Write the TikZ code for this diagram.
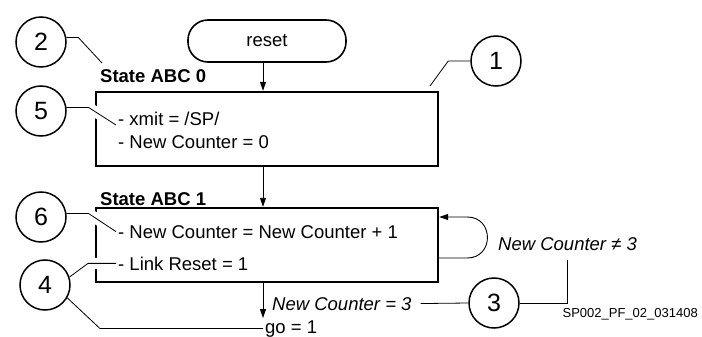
\documentclass[tikz,border=0pt]{standalone}
\usepackage{fontspec}
\setmainfont{Liberation Sans}
\usetikzlibrary{arrows.meta,positioning,calc}
\tikzset{
  every node/.style={inner sep=2pt},
  tag/.style={draw, circle, line width=1.5pt, minimum size=50pt, inner sep=0pt,
    font=\fontsize{25}{29}\selectfont},
  statebox/.style={draw, line width=2.4pt, minimum width=342pt, minimum height=74pt, inner sep=0pt},
  statename/.style={anchor=base west, font=\fontsize{18.5}{22}\selectfont\bfseries},
  leader/.style={line width=0.8pt},
  gapleader/.style={leader, preaction={draw=white, line width=11pt, shorten <=12pt, shorten >=5pt}},
  flow/.style={line width=0.9pt, -{Triangle[length=9pt,width=6pt]}},
  cond/.style={font=\fontsize{18.5}{22}\selectfont\itshape}
}

\begin{document}
\begin{tikzpicture}[x=1pt, y=-1pt, font=\fontsize{18.5}{22}\selectfont]
  \useasboundingbox (0,0) rectangle (702,337);

  % Define the start node and the two states
  \node[draw, line width=1.6pt, rounded corners=20pt, minimum width=158pt, minimum height=42pt] (reset) at (267,41) {reset};
  \node[statebox] (abc0) at (267,129) {};
  \node[statebox] (abc1) at (267,245) {};

  % State names and actions
  \node[statename] (name0) at (98,83) {State ABC 0};
  \node[statename] (name1) at (98,205) {State ABC 1};
  \node[anchor=base west] (t1) at (116,125) {- xmit = /SP/};
  \node[anchor=base west] (t2) at (116,148) {- New Counter = 0};
  \node[anchor=base west] (t3) at (116,238) {- New Counter = New Counter + 1};
  \node[anchor=base west] (t4) at (116,270) {- Link Reset = 1};
  \node[anchor=base west] (go) at (263,333) {go = 1};

  % Transition conditions
  \node[cond, anchor=base west] (lbleq) at (270,310) {New Counter = 3};
  \node[cond, anchor=base west] (lblne) at (496,250) {New Counter ≠ 3};
  \node[anchor=base east, font=\fontsize{13}{15}\selectfont] (figid) at (700,317) {SP002\_PF\_02\_031408};

  % Numbered callouts
  \node[tag] (c1) at (496,61) {1};
  \node[tag] (c2) at (41,42) {2};
  \node[tag] (c3) at (494,303) {3};
  \node[tag] (c4) at (45,285) {4};
  \node[tag] (c5) at (41,111) {5};
  \node[tag] (c6) at (41,217) {6};

  % Draw the transitions
  \coordinate (spine) at (263,0);
  \draw[flow] (reset.south -| spine) -- (abc0.north -| spine);
  \draw[flow] (abc0.south -| spine) -- (abc1.north -| spine);
  \draw[flow] (abc1.south -| spine) -- (go.north -| spine);
  \draw[flow] ($(abc1.east)+(0,13)$) -- ++(28,0)
    .. controls +(27,0) and +(27,0) .. ++(0,-41) -- ($(abc1.east)+(0,-28)$);

  % Leader lines
  \coordinate (p1) at (430,86);
  \coordinate (p2) at (102,63);
  \draw[leader] (c1.west) -- ++(-22,0) -- (p1);
  \draw[leader] (c2.10) -- ++(12,0) -- (p2);
  \draw[gapleader] (c5.8) -- ++(22,0) -- (t1.base west);
  \draw[gapleader] (c6.8) -- ++(22,0) -- (t3.west);
  \draw[gapleader] (c4.18) -- ($(t4.west)+(-28,0)$) -- (t4.west);
  \draw[leader] (c4.-30) -- ($(go.west)+(-163,0)$) -- (go.west);
  \draw[leader, shorten <=7pt] (lbleq.east) -- (c3.west);
  \draw[leader, shorten >=8pt] (c3.east) -| (lblne.south);
\end{tikzpicture}
\end{document}
